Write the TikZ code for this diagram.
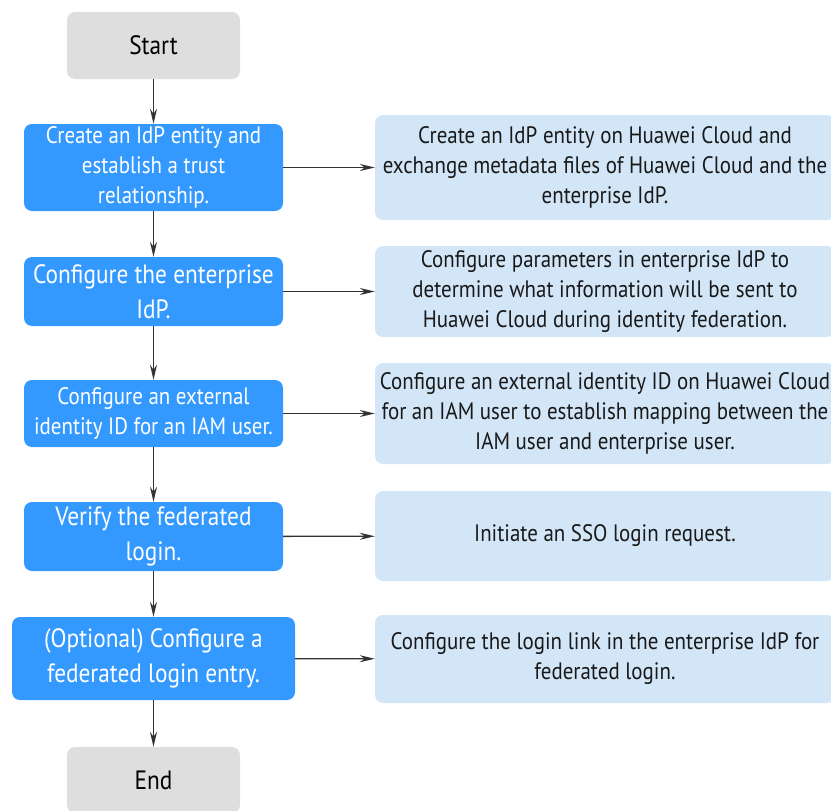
\documentclass[tikz,border=0pt]{standalone}
\usepackage{fontspec}
\setmainfont[FakeStretch=0.88]{PT Sans}
\usetikzlibrary{arrows.meta}

\definecolor{stepblue}{HTML}{3399FF}
\definecolor{noteblue}{HTML}{D3E6F8}
\definecolor{termgray}{HTML}{DEDEDE}
\definecolor{linegray}{HTML}{333333}

\begin{document}
\begin{tikzpicture}[
    x=1pt, y=-1pt,
    every node/.style={align=center, inner sep=0pt, rounded corners=8pt},
    small/.style={font=\fontsize{23.8}{30}\selectfont},
    large/.style={font=\fontsize{26.5}{35}\selectfont},
    term/.style={fill=termgray, text=black, large, minimum width=173pt},
    stepbox/.style={fill=stepblue, text=white, minimum width=259pt},
    note/.style={fill=noteblue, text=black!90, small, minimum width=460pt},
    e/.style={linegray, line width=1.3pt, -{Stealth[length=15pt, width=7pt]}},
  ]
  \useasboundingbox (0,0) rectangle (831,811);
  % main flow
  \node[term, minimum height=67pt] (start) at (153.5, 45.5) {Start};
  \node[stepbox, small, minimum height=87pt] (s1) at (153.5, 167.5)
    {Create an IdP entity and\\establish a trust\\relationship.};
  \node[stepbox, large, minimum height=69pt] (s2) at (153.5, 291.5)
    {Configure the enterprise\\IdP.};
  \node[stepbox, small, minimum height=67pt] (s3) at (153.5, 413.5)
    {Configure an external\\identity ID for an IAM user.};
  \node[stepbox, large, minimum height=69pt] (s4) at (153.5, 536.5)
    {Verify the federated\\login.};
  \node[stepbox, large, minimum height=83pt, minimum width=283pt] (s5) at (153.5, 658.5)
    {(Optional) Configure a\\federated login entry.};
  \node[term, minimum height=66pt] (end) at (153.5, 780) {End};
  % notes
  \node[note, minimum height=105pt] (r1) at (605, 167.5)
    {Create an IdP entity on Huawei Cloud and\\exchange metadata files of Huawei Cloud and the\\enterprise IdP.};
  \node[note, minimum height=91pt] (r2) at (605, 291.5)
    {Configure parameters in enterprise IdP to\\determine what information will be sent to\\Huawei Cloud during identity federation.};
  \node[note, minimum height=101pt] (r3) at (605, 413.5)
    {Configure an external identity ID on Huawei Cloud\\for an IAM user to establish mapping between the\\IAM user and enterprise user.};
  \node[note, minimum height=90pt] (r4) at (605, 536)
    {Initiate an SSO login request.};
  \node[note, minimum height=88pt] (r5) at (605, 659)
    {Configure the login link in the enterprise IdP for\\federated login.};
  % connectors
  \draw[e] (start) -- (s1);
  \draw[e] (s1) -- (s2);
  \draw[e] (s2) -- (s3);
  \draw[e] (s3) -- (s4);
  \draw[e] (s4) -- (s5);
  \draw[e] (s5) -- (end);
  \foreach \i in {1,...,5}
    \draw[e] (s\i) -- (r\i);
\end{tikzpicture}
\end{document}
